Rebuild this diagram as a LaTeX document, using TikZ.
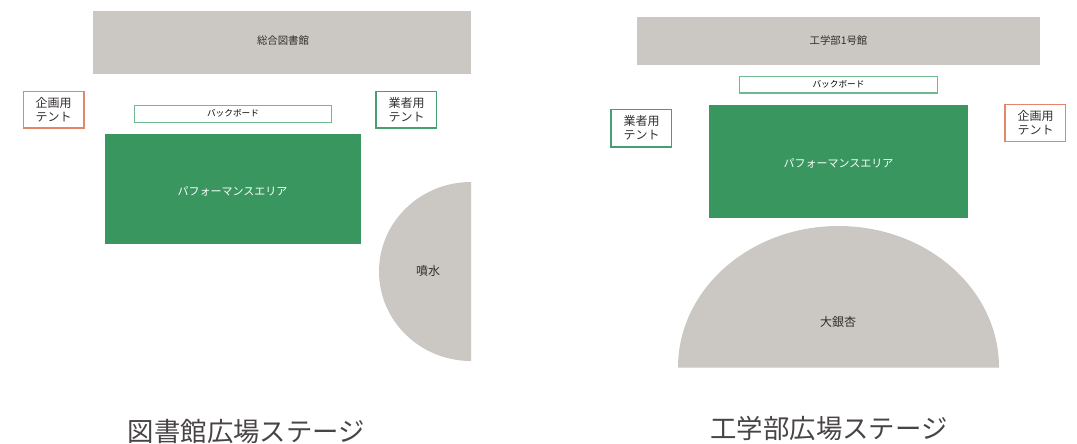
\documentclass[tikz,border=0pt]{standalone}
\usepackage{fontspec}
\setmainfont{Noto Sans CJK JP}
\definecolor{stagegreen}{RGB}{56,150,94}
\definecolor{boardgreen}{RGB}{112,184,142}
\definecolor{tentgreen}{RGB}{72,160,112}
\definecolor{tentred}{RGB}{226,134,108}
\definecolor{placegray}{RGB}{203,200,195}
\definecolor{labeltext}{RGB}{50,46,46}
\definecolor{titletext}{RGB}{72,68,68}
\tikzset{
  placelabel/.style={inner sep=0.75pt,text=labeltext,font=\fontsize{7.8}{9}\selectfont},
  boardlabel/.style={inner sep=0.75pt,text=black,font=\fontsize{6.5}{8}\selectfont},
  stagelabel/.style={inner sep=0.75pt,text=white,font=\fontsize{8.25}{10}\selectfont},
  tentlabel/.style={inner sep=0.75pt,text=labeltext,align=center,font=\fontsize{9}{10.8}\selectfont},
  titlelabel/.style={inner sep=0.75pt,text=titletext,font=\fontsize{19.8}{22}\selectfont},
}
\begin{document}
\begin{tikzpicture}[x=0.75pt,y=0.75pt,yscale=-1,xscale=1]
\useasboundingbox (0,0) rectangle (1077,443);

%Library plaza
\fill [placegray] (92.5,10.5) rectangle (471,73.5);
\fill [stagegreen] (104.5,133.5) rectangle (361,244);
\draw [boardgreen,line width=0.9] (134.5,105.5) rectangle (331.5,122.5);
\draw [tentred,line width=0.9] (23.5,91.5) rectangle (84,128);
\draw [tentgreen,line width=0.9] (376,91.5) rectangle (436.5,128);
\fill [placegray] (471,182) arc [start angle=270,end angle=90,x radius=92,y radius=89.5] -- cycle;

%Engineering plaza
\fill [placegray] (637,16.5) rectangle (1040,64.5);
\fill [stagegreen] (709,104.5) rectangle (968,218);
\draw [boardgreen,line width=0.9] (739.5,76.5) rectangle (937.5,93);
\draw [tentgreen,line width=0.9] (611,109.5) rectangle (671.5,147);
\draw [tentred,line width=0.9] (1005,104.5) rectangle (1065.5,141.5);
\fill [placegray] (678,367.5) arc [start angle=180,end angle=360,x radius=160.5,y radius=141.5] -- cycle;

% Text Node
\node (library) [placelabel] at (283,40.5) {総合図書館};
\node (libboard) [boardlabel] at (233,113.5) {バックボード};
\node (libstage) [stagelabel] at (232.5,191) {パフォーマンスエリア};
\node (libplanning) [tentlabel] at (53.5,109.5) {企画用\\テント};
\node (libvendor) [tentlabel] at (406.5,109.5) {業者用\\テント};
\node (fountain) [placelabel,font=\fontsize{9}{10}\selectfont] at (428,271) {噴水};
\node (libtitle) [titlelabel] at (246.5,431) {図書館広場ステージ};
% Text Node
\node (engineering) [placelabel] at (838.5,40.5) {工学部1号館};
\node (engboard) [boardlabel] at (838.5,84) {バックボード};
\node (engstage) [stagelabel] at (838.5,163.5) {パフォーマンスエリア};
\node (engvendor) [tentlabel] at (641.5,128) {業者用\\テント};
\node (engplanning) [tentlabel] at (1035.5,123) {企画用\\テント};
\node (ginkgo) [placelabel,font=\fontsize{9}{10}\selectfont] at (838,321.5) {大銀杏};
\node (engtitle) [titlelabel] at (829,428) {工学部広場ステージ};

\end{tikzpicture}
\end{document}
